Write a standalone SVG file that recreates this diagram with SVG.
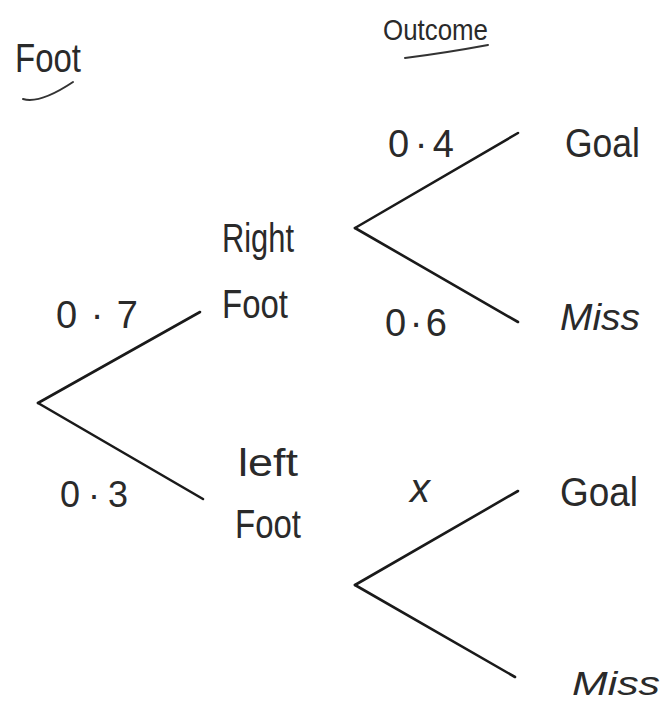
<svg xmlns="http://www.w3.org/2000/svg" width="667" height="703" viewBox="0 0 667 703">
<style>
.t{font-family:"Liberation Sans",Arial,sans-serif;fill:#2a2a2a;}
.e{stroke:#1a1a1a;stroke-width:2.6;fill:none;stroke-linecap:round;}
.u{stroke:#333;stroke-width:2;fill:none;stroke-linecap:round;}
</style>
<rect width="667" height="703" fill="#ffffff"/>
<g id="header-foot">
<text class="t" x="15" y="72" font-size="40" textLength="66" lengthAdjust="spacingAndGlyphs">Foot</text>
<path class="u" d="M23 99 Q40 104 73 82"/>
</g>
<g id="header-outcome">
<text class="t" x="383" y="40" font-size="30" textLength="105" lengthAdjust="spacingAndGlyphs">Outcome</text>
<path class="u" d="M405 58 Q445 53 488 45"/>
</g>
<g id="connectors">
<line class="e" x1="38" y1="403" x2="200" y2="312"/>
<line class="e" x1="38" y1="403" x2="203" y2="499"/>
<line class="e" x1="355" y1="228" x2="518" y2="133"/>
<line class="e" x1="355" y1="228" x2="518" y2="322"/>
<line class="e" x1="355" y1="585" x2="518" y2="491"/>
<line class="e" x1="355" y1="585" x2="515" y2="677"/>
</g>
<g id="p-07"><text class="t" x="56" y="328" font-size="38" textLength="82" lengthAdjust="spacing">0·7</text></g>
<g id="p-03"><text class="t" x="60" y="507" font-size="36" textLength="68" lengthAdjust="spacing">0·3</text></g>
<g id="node-right-foot">
<text class="t" x="222" y="252" font-size="40" textLength="72" lengthAdjust="spacingAndGlyphs">Right</text>
<text class="t" x="222" y="318" font-size="40" textLength="66" lengthAdjust="spacingAndGlyphs">Foot</text>
</g>
<g id="node-left-foot">
<text class="t" x="238" y="476" font-size="38" textLength="60" lengthAdjust="spacingAndGlyphs">left</text>
<text class="t" x="235" y="538" font-size="40" textLength="66" lengthAdjust="spacingAndGlyphs">Foot</text>
</g>
<g id="p-04"><text class="t" x="388" y="157" font-size="38" textLength="66" lengthAdjust="spacing">0·4</text></g>
<g id="p-06"><text class="t" x="385" y="336" font-size="38" textLength="62" lengthAdjust="spacing">0·6</text></g>
<g id="p-x"><text class="t" x="410" y="502" font-size="40" font-style="italic">x</text></g>
<g id="out-goal-1"><text class="t" x="565" y="157" font-size="40" textLength="75" lengthAdjust="spacingAndGlyphs">Goal</text></g>
<g id="out-miss-1"><text class="t" x="560" y="330" font-size="36" font-style="italic" textLength="80" lengthAdjust="spacingAndGlyphs">Miss</text></g>
<g id="out-goal-2"><text class="t" x="560" y="506" font-size="40" textLength="78" lengthAdjust="spacingAndGlyphs">Goal</text></g>
<g id="out-miss-2"><text class="t" x="572" y="695" font-size="34" font-style="italic" textLength="88" lengthAdjust="spacingAndGlyphs">Miss</text></g>
</svg>
